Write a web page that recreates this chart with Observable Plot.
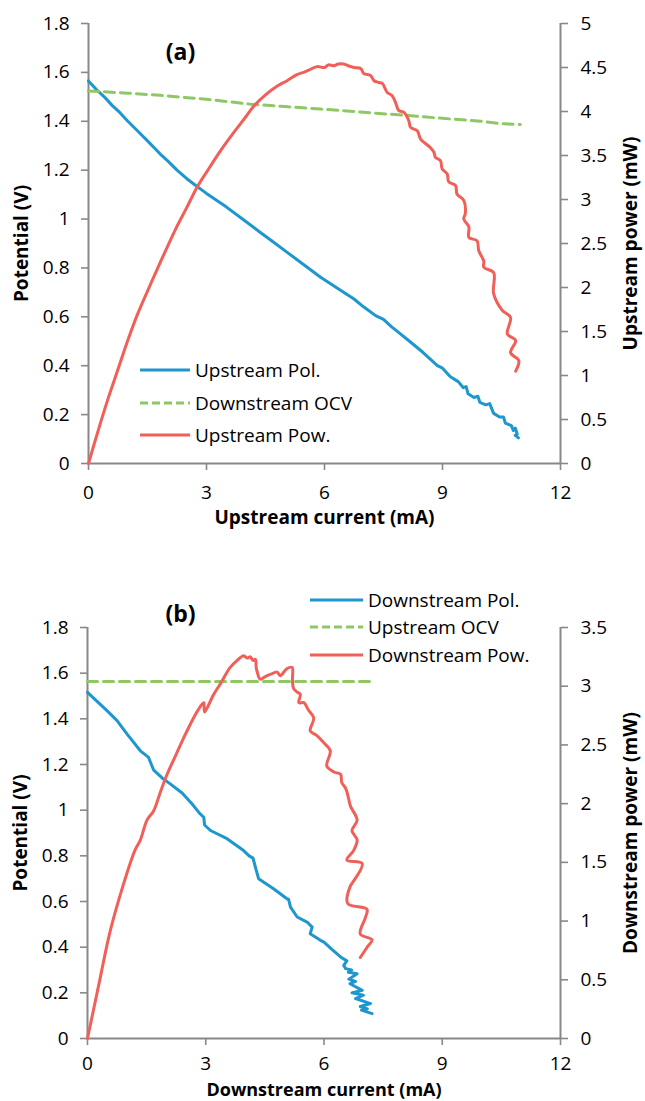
<!DOCTYPE html>
<html><head><meta charset="utf-8">
<script src="https://cdn.jsdelivr.net/npm/d3@7"></script>
<script src="https://cdn.jsdelivr.net/npm/@observablehq/plot@0.6"></script>
<style>
body{margin:0;background:#fff;overflow:hidden;font-family:"Open Sans",sans-serif;}
#root{position:relative;width:645px;height:1101px;background:#fff;}
.layer{position:absolute;left:0;}
</style></head><body><div id="root"></div>
<script>
// ---------- Data ----------
const xTicks = [0, 3, 6, 9, 12];
const vTicks = [0, 0.2, 0.4, 0.6, 0.8, 1, 1.2, 1.4, 1.6, 1.8];
const pTicksA = [0, 0.5, 1, 1.5, 2, 2.5, 3, 3.5, 4, 4.5, 5];
const pTicksB = [0, 0.5, 1, 1.5, 2, 2.5, 3, 3.5];

// Panel (a): upstream polarisation
const upPolI = [0,0.2,0.4,0.6,0.8,1.0,1.25,1.5,1.83,2.0,2.25,2.5,2.76,3.0,3.5,4.0,4.37,4.75,5.0,5.5,5.9,6.3,6.75,7.0,7.3,7.5,7.7,7.93,8.2,8.5,8.87,9.0,9.2,9.4,9.53,9.6,9.65,9.8,9.9,9.95,10.1,10.2,10.3,10.45,10.55,10.6,10.75,10.8,10.85,10.9,10.85,10.93];
const upPolV = [1.565,1.53,1.50,1.465,1.435,1.40,1.36,1.32,1.265,1.24,1.20,1.165,1.133,1.105,1.05,0.99,0.945,0.90,0.87,0.81,0.762,0.72,0.673,0.64,0.605,0.59,0.56,0.53,0.495,0.455,0.40,0.39,0.355,0.335,0.31,0.315,0.285,0.27,0.275,0.25,0.24,0.245,0.205,0.19,0.19,0.165,0.155,0.135,0.145,0.12,0.115,0.105];
// Panel (a): downstream OCV
const dnOcvI = [0,1,1.83,3,4.12,5,5.9,7,8.06,9,9.97,10.5,10.98];
const dnOcvV = [1.524,1.515,1.506,1.49,1.47,1.46,1.45,1.437,1.424,1.412,1.40,1.39,1.387];
// Panel (a): upstream power
const upPowI = [0,0.25,0.5,0.75,1.0,1.25,1.62,1.83,2.2,2.5,2.76,3.0,3.35,3.69,4.0,4.2,4.5,4.8,5.05,5.3,5.5,5.6,5.81,6.0,6.1,6.24,6.35,6.49,6.6,6.75,6.92,7.0,7.17,7.26,7.38,7.47,7.59,7.72,7.8,7.89,8.02,8.14,8.19,8.36,8.44,8.69,8.78,8.82,8.95,8.99,9.12,9.16,9.33,9.37,9.54,9.58,9.54,9.67,9.67,9.88,9.92,10.05,10.05,10.3,10.3,10.52,10.73,10.65,10.86,10.73,10.94,10.86];
const upPowP = [0,0.38,0.74,1.07,1.40,1.70,2.08,2.29,2.65,2.91,3.14,3.31,3.55,3.76,3.94,4.06,4.19,4.29,4.35,4.42,4.45,4.47,4.51,4.50,4.53,4.52,4.54,4.54,4.52,4.50,4.49,4.43,4.41,4.35,4.33,4.32,4.22,4.18,4.11,4.01,3.99,3.90,3.82,3.78,3.69,3.59,3.54,3.48,3.44,3.35,3.29,3.20,3.16,3.06,2.99,2.84,2.78,2.69,2.57,2.53,2.42,2.30,2.23,2.17,1.93,1.74,1.66,1.47,1.40,1.26,1.17,1.05];

// Panel (b): downstream polarisation
const dnPolI = [0,0.25,0.5,0.75,1.0,1.34,1.55,1.62,1.68,1.9,2.1,2.4,2.65,2.85,2.95,2.97,3.12,3.54,3.96,4.1,4.2,4.26,4.34,4.72,5.06,5.1,5.15,5.32,5.57,5.70,5.65,5.91,6.0,6.2,6.42,6.58,6.5,6.55,6.7,6.62,6.84,6.63,6.8,6.66,6.97,6.71,7.0,6.8,7.18,6.92,7.1,6.95,7.22];
const dnPolV = [1.516,1.475,1.435,1.392,1.334,1.26,1.231,1.20,1.175,1.14,1.115,1.075,1.028,0.985,0.969,0.935,0.911,0.875,0.823,0.80,0.79,0.75,0.70,0.656,0.612,0.61,0.575,0.532,0.51,0.488,0.459,0.43,0.422,0.39,0.357,0.34,0.32,0.306,0.30,0.29,0.284,0.26,0.25,0.24,0.211,0.20,0.19,0.175,0.153,0.14,0.13,0.124,0.109];
// Panel (b): upstream OCV
const upOcvI = [0, 7.3];
const upOcvV = [1.564, 1.564];
// Panel (b): downstream power
const dnPowI = [0,0.3,0.58,0.9,1.2,1.34,1.51,1.68,1.85,2.02,2.25,2.44,2.69,2.85,2.95,2.97,3.2,3.37,3.62,3.8,3.96,4.05,4.13,4.2,4.26,4.28,4.30,4.38,4.5,4.64,4.81,4.89,5.06,5.19,5.2,5.23,5.32,5.4,5.36,5.49,5.60,5.74,5.65,5.82,5.99,6.16,6.07,6.25,6.42,6.45,6.55,6.62,6.67,6.84,6.71,6.84,6.75,6.58,6.97,6.71,6.67,6.60,7.09,7.05,6.92,7.22,7.10,6.92];
const dnPowP = [0,0.48,0.92,1.30,1.60,1.69,1.86,1.94,2.10,2.25,2.42,2.56,2.73,2.82,2.86,2.78,2.93,3.02,3.16,3.22,3.26,3.24,3.25,3.22,3.23,3.16,3.13,3.06,3.08,3.10,3.12,3.09,3.15,3.16,3.05,2.98,2.95,2.93,2.86,2.86,2.80,2.73,2.62,2.58,2.52,2.45,2.32,2.27,2.25,2.18,2.13,2.05,1.98,1.86,1.77,1.69,1.60,1.52,1.49,1.32,1.30,1.15,1.10,1.03,0.89,0.84,0.78,0.69];

const legendA = ["Upstream Pol.", "Downstream OCV", "Upstream Pow."];
const legendB = ["Downstream Pol.", "Upstream OCV", "Downstream Pow."];

// ---------- Styles ----------
const BLUE = "#1E96CE", GREEN = "#8DC863", RED = "#F15F59", GRAY = "#888888";
const FONT = "'Open Sans', sans-serif";
const root = document.getElementById("root");

function panel(o) {
  const common = {
    width: 645, height: o.height,
    marginTop: o.mt, marginBottom: o.mb, marginLeft: o.ml, marginRight: 85,
    style: {fontFamily: FONT, fontSize: "19px", background: "transparent", color: "#000", overflow: "visible"}
  };
  const base = Plot.plot({
    ...common,
    x: {domain: [0, 12]},
    y: {domain: [0, 1.8]},
    marks: [
      Plot.axisX(xTicks, {tickSize: 7, tickPadding: o.xPad, stroke: GRAY, strokeWidth: 1.6, fill: "#000", label: null, tickFormat: d => String(d)}),
      Plot.axisY(vTicks, {tickSize: 7, tickPadding: 12, stroke: GRAY, strokeWidth: 1.6, fill: "#000", label: null, tickFormat: d => String(d)}),
      Plot.ruleX([0], {stroke: GRAY, strokeWidth: 2}),
      Plot.ruleY([0], {stroke: GRAY, strokeWidth: 2}),
      Plot.line(o.polV, {x: o.polI, y: o.polV, stroke: BLUE, strokeWidth: 3}),
      Plot.line(o.ocvV, {x: o.ocvI, y: o.ocvV, stroke: GREEN, strokeWidth: 3, strokeDasharray: "10,6"}),
      Plot.text(["Potential (V)"], {frameAnchor: "left", dx: -67, rotate: -90, textAnchor: "middle", lineAnchor: "middle", fontWeight: "bold", fontSize: 19, fill: "#000"}),
      Plot.text([o.xLabel], {frameAnchor: "bottom", dy: o.xlDy, textAnchor: "middle", lineAnchor: "middle", fontWeight: "bold", fontSize: o.xlSize, fill: "#000"}),
      Plot.text([o.tag], {frameAnchor: "top-left", dx: o.tagDx, dy: o.tagDy, textAnchor: "middle", lineAnchor: "middle", fontWeight: "bold", fontSize: 23, fill: "#000"})
    ]
  });
  const over = Plot.plot({
    ...common,
    x: {domain: [0, 12], axis: null},
    y: {domain: [0, o.pMax], axis: null},
    marks: [
      Plot.axisY(o.pTicks, {anchor: "right", tickSize: 7, tickPadding: 13, stroke: GRAY, strokeWidth: 1.6, fill: "#000", label: null, tickFormat: d => String(d)}),
      Plot.ruleX([12], {stroke: GRAY, strokeWidth: 2}),
      Plot.line(o.powP, {x: o.powI, y: o.powP, stroke: RED, strokeWidth: 3, curve: "catmull-rom"}),
      Plot.text([o.pLabel], {frameAnchor: "right", dx: 70, rotate: -90, textAnchor: "middle", lineAnchor: "middle", fontWeight: "bold", fontSize: 19, fill: "#000"})
    ]
  });
  for (const svg of [base, over]) {
    svg.classList.add("layer");
    svg.style.top = o.top + "px";
    root.appendChild(svg);
  }
  // legend
  const lg = d3.select(root).append("svg").attr("class", "layer")
    .style("top", "0px").attr("width", 645).attr("height", 1101)
    .style("overflow", "visible").style("pointer-events", "none");
  const colors = [BLUE, GREEN, RED];
  o.legend.forEach((name, i) => {
    const y = o.legY[i];
    lg.append("line").attr("x1", o.legX[0]).attr("x2", o.legX[1]).attr("y1", y).attr("y2", y)
      .attr("stroke", colors[i]).attr("stroke-width", 3)
      .attr("stroke-dasharray", i === 1 ? "8,4" : null);
    lg.append("text").attr("x", o.legX[1] + 5).attr("y", y).attr("dy", "0.35em")
      .attr("font-family", FONT).attr("font-size", 19).attr("fill", "#000").text(name);
  });
}

panel({top: 0, height: 535, mt: 23, mb: 72, ml: 88, pMax: 5, pTicks: pTicksA, xPad: 15,
  polI: upPolI, polV: upPolV, ocvI: dnOcvI, ocvV: dnOcvV, powI: upPowI, powP: upPowP,
  xLabel: "Upstream current (mA)", xlDy: 54, xlSize: 19, pLabel: "Upstream power (mW)", tag: "(a)", tagDx: 92, tagDy: 29,
  legend: legendA, legX: [140, 190], legY: [370, 403, 435]});

panel({top: 540, height: 561, mt: 87, mb: 63, ml: 87, pMax: 3.5, pTicks: pTicksB, xPad: 11,
  polI: dnPolI, polV: dnPolV, ocvI: upOcvI, ocvV: upOcvV, powI: dnPowI, powP: dnPowP,
  xLabel: "Downstream current (mA)", xlDy: 52, xlSize: 18, pLabel: "Downstream power (mW)", tag: "(b)", tagDx: 93, tagDy: -13,
  legend: legendB, legX: [310, 363], legY: [600, 627, 655]});
</script></body></html>
